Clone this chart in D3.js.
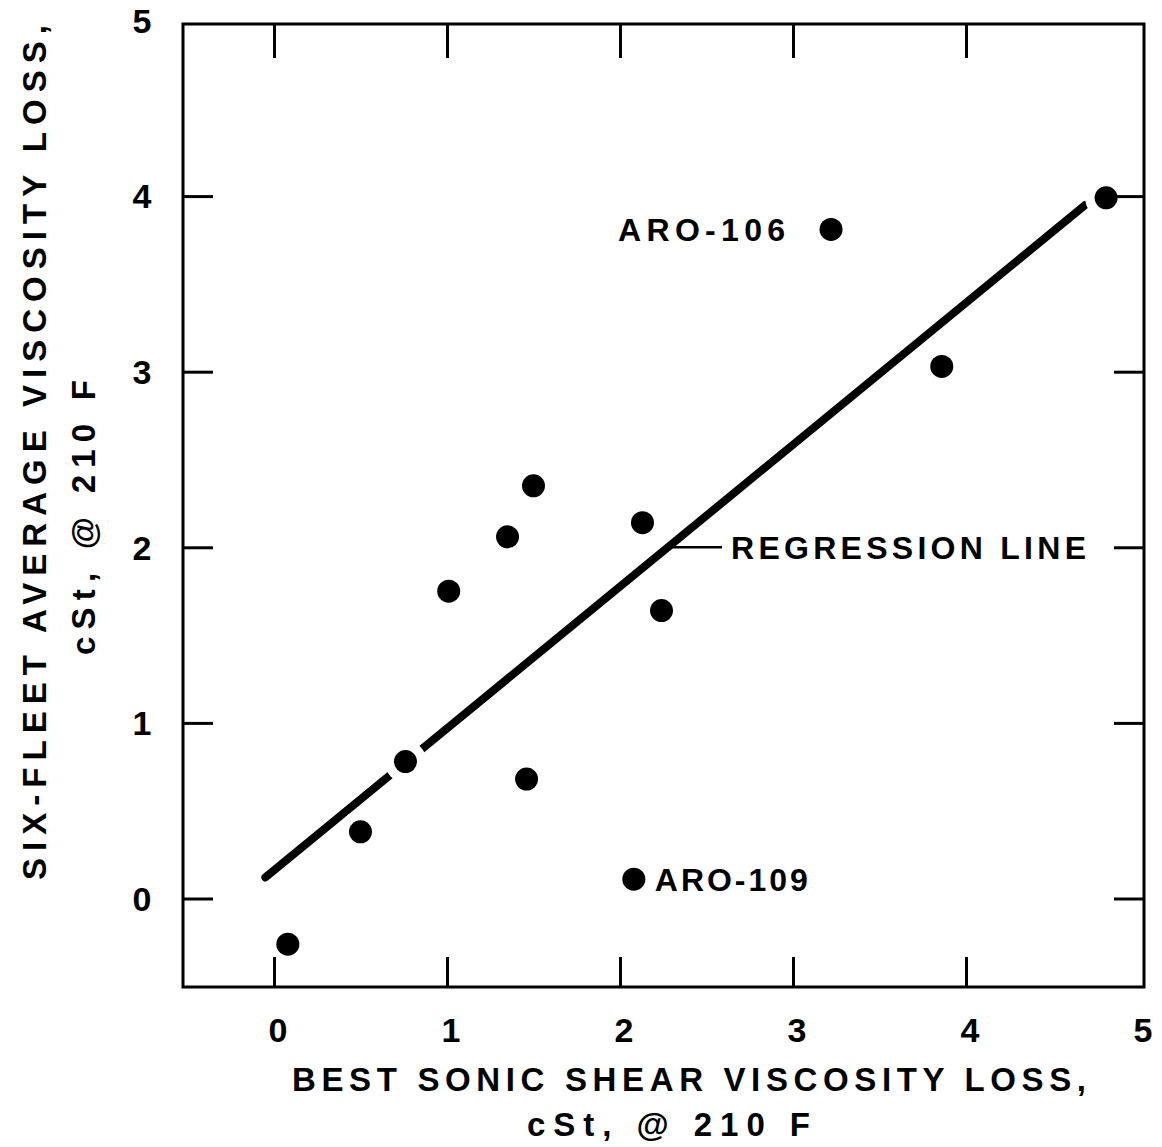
<!DOCTYPE html>
<html>
<head>
<meta charset="utf-8">
<script src="https://cdn.jsdelivr.net/npm/d3@7"></script>
<style>
  body { margin: 0; background: #fff; }
  text { font-family: "Liberation Sans", Arial, sans-serif; font-weight: bold; fill: #000; }
</style>
</head>
<body>
<div id="chart"></div>
<script>
// best sonic shear loss (x) vs six-fleet average loss (y), cSt @ 210 F
var sonicLoss = [0.08, 0.50, 0.76, 1.01, 1.35, 1.50, 1.46, 2.13, 2.24, 2.08, 3.22, 3.86, 4.81];
var fleetLoss = [-0.26, 0.38, 0.78, 1.75, 2.06, 2.35, 0.68, 2.14, 1.64, 0.11, 3.81, 3.03, 3.99];
var pointNames = ["", "", "", "", "", "", "", "", "", "ARO-109", "ARO-106", "", ""];
var regX = [-0.05, 4.69];
var regY = [0.12, 3.95];
var tickVals = [0, 1, 2, 3, 4, 5];

var width = 1162, height = 1147;

var svg = d3.select("#chart").append("svg")
    .attr("width", width)
    .attr("height", height);

var x = d3.scaleLinear().domain([-0.526, 5.029]).range([183, 1144]);
var y = d3.scaleLinear().domain([-0.504, 4.98]).range([987, 24]);

var pts = sonicLoss.map(function(v, i) { return { x: v, y: fleetLoss[i], name: pointNames[i] }; });

// regression line first, points get a white halo over it
svg.append("path")
    .datum(regX.map(function(v, i) { return [v, regY[i]]; }))
    .attr("d", d3.line().x(function(d) { return x(d[0]); }).y(function(d) { return y(d[1]); }))
    .attr("fill", "none")
    .attr("stroke", "#000")
    .attr("stroke-width", 8)
    .attr("stroke-linecap", "round");

svg.selectAll("circle.halo")
    .data(pts)
    .enter().append("circle")
    .attr("class", "halo")
    .attr("cx", function(d) { return x(d.x); })
    .attr("cy", function(d) { return y(d.y); })
    .attr("r", 21)
    .attr("fill", "#fff");

// frame
svg.append("rect")
    .attr("x", 183).attr("y", 24)
    .attr("width", 1144 - 183).attr("height", 987 - 24)
    .attr("fill", "none")
    .attr("stroke", "#000")
    .attr("stroke-width", 3);

// inward ticks on all four sides
var inner = [0, 1, 2, 3, 4];
var tickLen = 30;
svg.append("g")
    .attr("transform", "translate(0,987)")
    .call(d3.axisBottom(x).tickValues(inner).tickSize(-tickLen).tickFormat(""))
    .call(function(g) { g.select(".domain").remove(); g.selectAll("line").attr("stroke-width", 3); });
svg.append("g")
    .attr("transform", "translate(0,24)")
    .call(d3.axisTop(x).tickValues(inner).tickSize(-tickLen - 4).tickFormat(""))
    .call(function(g) { g.select(".domain").remove(); g.selectAll("line").attr("stroke-width", 3); });
svg.append("g")
    .attr("transform", "translate(183,0)")
    .call(d3.axisLeft(y).tickValues(inner).tickSize(-tickLen).tickFormat(""))
    .call(function(g) { g.select(".domain").remove(); g.selectAll("line").attr("stroke-width", 3); });
svg.append("g")
    .attr("transform", "translate(1144,0)")
    .call(d3.axisRight(y).tickValues(inner).tickSize(-tickLen).tickFormat(""))
    .call(function(g) { g.select(".domain").remove(); g.selectAll("line").attr("stroke-width", 3); });

// tick labels
svg.selectAll("text.xt")
    .data(tickVals)
    .enter().append("text")
    .attr("class", "xt")
    .attr("x", function(d) { return x(d) + 4; })
    .attr("y", 1042)
    .attr("text-anchor", "middle")
    .style("font-size", "34px")
    .text(function(d) { return d; });

svg.selectAll("text.yt")
    .data(tickVals)
    .enter().append("text")
    .attr("class", "yt")
    .attr("x", 142)
    .attr("y", function(d) { return y(d); })
    .attr("dy", "0.36em")
    .attr("text-anchor", "middle")
    .style("font-size", "34px")
    .text(function(d) { return d; });

// data points
svg.selectAll("circle.pt")
    .data(pts)
    .enter().append("circle")
    .attr("class", "pt")
    .attr("cx", function(d) { return x(d.x); })
    .attr("cy", function(d) { return y(d.y); })
    .attr("r", 11.5)
    .attr("fill", "#000");

// point labels
var p106 = pts[10], p109 = pts[9];
svg.append("text")
    .attr("x", x(p106.x) - 213).attr("y", y(p106.y) + 12)
    .attr("textLength", 167).attr("lengthAdjust", "spacing")
    .style("font-size", "32px")
    .text(p106.name);
svg.append("text")
    .attr("x", x(p109.x) + 21).attr("y", y(p109.y) + 12)
    .attr("textLength", 153).attr("lengthAdjust", "spacing")
    .style("font-size", "32px")
    .text(p109.name);

// regression line callout
var slope = (regY[1] - regY[0]) / (regX[1] - regX[0]);
var xAt2 = regX[0] + (2 - regY[0]) / slope;
svg.append("line")
    .attr("x1", x(xAt2)).attr("y1", y(2))
    .attr("x2", 722).attr("y2", y(2))
    .attr("stroke", "#000")
    .attr("stroke-width", 2.5);
svg.append("text")
    .attr("x", 731).attr("y", y(2) + 12)
    .attr("textLength", 355).attr("lengthAdjust", "spacing")
    .style("font-size", "32px")
    .text("REGRESSION  LINE");

// axis titles
svg.append("text")
    .attr("x", 292).attr("y", 1091)
    .attr("textLength", 794).attr("lengthAdjust", "spacing")
    .style("font-size", "33px")
    .text("BEST SONIC SHEAR VISCOSITY LOSS,");
svg.append("text")
    .attr("x", 527).attr("y", 1136)
    .attr("textLength", 283).attr("lengthAdjust", "spacing")
    .style("font-size", "33px")
    .text("cSt, @ 210 F");

svg.append("text")
    .attr("transform", "translate(46,880) rotate(-90)")
    .attr("textLength", 855).attr("lengthAdjust", "spacing")
    .style("font-size", "33px")
    .text("SIX-FLEET AVERAGE VISCOSITY LOSS,");
svg.append("text")
    .attr("transform", "translate(95,655) rotate(-90)")
    .attr("textLength", 275).attr("lengthAdjust", "spacing")
    .style("font-size", "33px")
    .text("cSt, @ 210 F");
</script>
</body>
</html>
